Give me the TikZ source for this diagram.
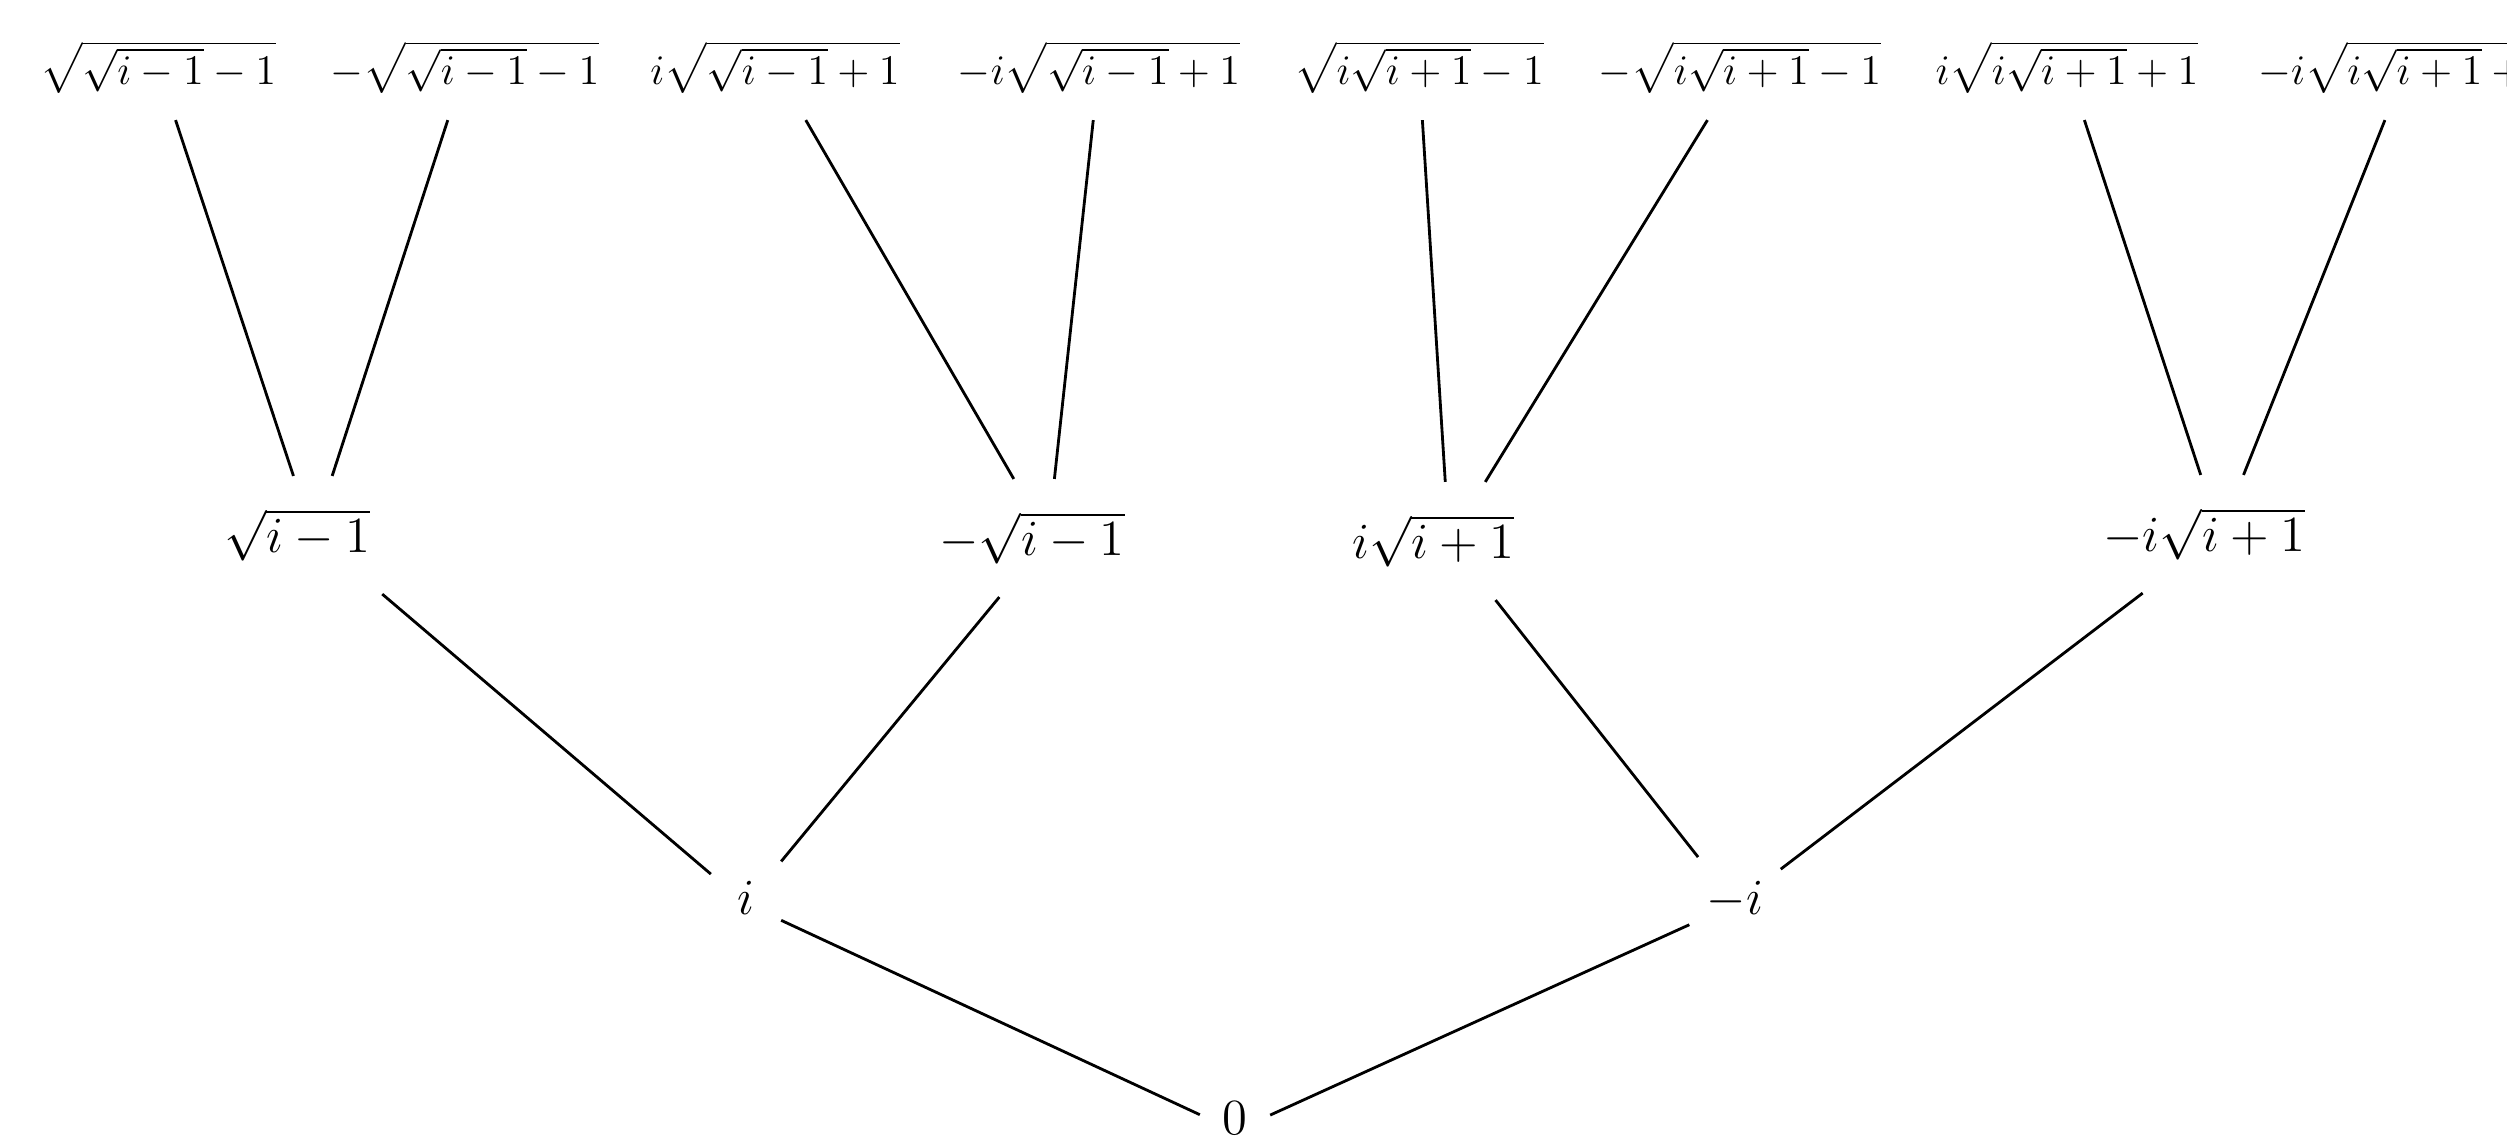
\documentclass[tikz,border=0pt]{standalone}
\usepackage{exscale}
\begin{document}
\begin{tikzpicture}[x=0.01cm,y=-0.01cm,
  tree edge/.style={line width=0.8pt},
  toplabel/.style={font=\large, inner sep=0pt, outer sep=0pt, minimum height=30.2pt},
  midlabel/.style={font=\Large, inner sep=0pt, outer sep=0pt, minimum height=33.6pt,
                   execute at end node={\hspace{9pt}}},
  rootlabel/.style={font=\Large, inner xsep=5pt, inner ysep=0pt, outer sep=0pt,
                    minimum width=20pt, minimum height=26.7pt, text depth=3.7pt}]
\useasboundingbox (0,0) rectangle (2507,1136);
\clip (0,0) rectangle (2507,1136);

% square roots of the second level
\node[toplabel] (t1) at (158,67)  {$\sqrt{\sqrt{i-1}-1}$};
\node[toplabel] (t2) at (465,67)  {$-\sqrt{\sqrt{i-1}-1}$};
\node[toplabel] (t3) at (775,67)  {$i\sqrt{\sqrt{i-1}+1}$};
\node[toplabel] (t4) at (1099,67) {$-i\sqrt{\sqrt{i-1}+1}$};
\node[toplabel] (t5) at (1419,67) {$\sqrt{i\sqrt{i+1}-1}$};
\node[toplabel] (t6) at (1740,67) {$-\sqrt{i\sqrt{i+1}-1}$};
\node[toplabel] (t7) at (2067,67) {$i\sqrt{i\sqrt{i+1}+1}$};
\node[toplabel] (t8) at (2406,67) {$-i\sqrt{i\sqrt{i+1}+1}$};

% second level
\node[midlabel] (m1) at (313,535)  {$\sqrt{i-1}$};
\node[midlabel] (m2) at (1048,538) {$-\sqrt{i-1}$};
\node[midlabel] (m3) at (1449,541) {$i\sqrt{i+1}$};
\node[midlabel] (m4) at (2220,534) {$-i\sqrt{i+1}$};

% first level and the root
\node[rootlabel] (b1) at (746,904)  {$i$};
\node[rootlabel] (b2) at (1735,904) {$-i$};
\node[rootlabel, text depth=7.4pt] (r) at (1235,1131) {$0$};

\draw[tree edge] (t1) -- (m1);
\draw[tree edge] (t2) -- (m1);
\draw[tree edge] (t3) -- (m2);
\draw[tree edge] (t4) -- (m2);
\draw[tree edge] (t5) -- (m3);
\draw[tree edge] (t6) -- (m3);
\draw[tree edge] (t7) -- (m4);
\draw[tree edge] (t8) -- (m4);
\draw[tree edge] (m1) -- (b1);
\draw[tree edge] (m2) -- (b1);
\draw[tree edge] (m3) -- (b2);
\draw[tree edge] (m4) -- (b2);
\draw[tree edge] (b1) -- (r);
\draw[tree edge] (b2) -- (r);
\end{tikzpicture}
\end{document}
